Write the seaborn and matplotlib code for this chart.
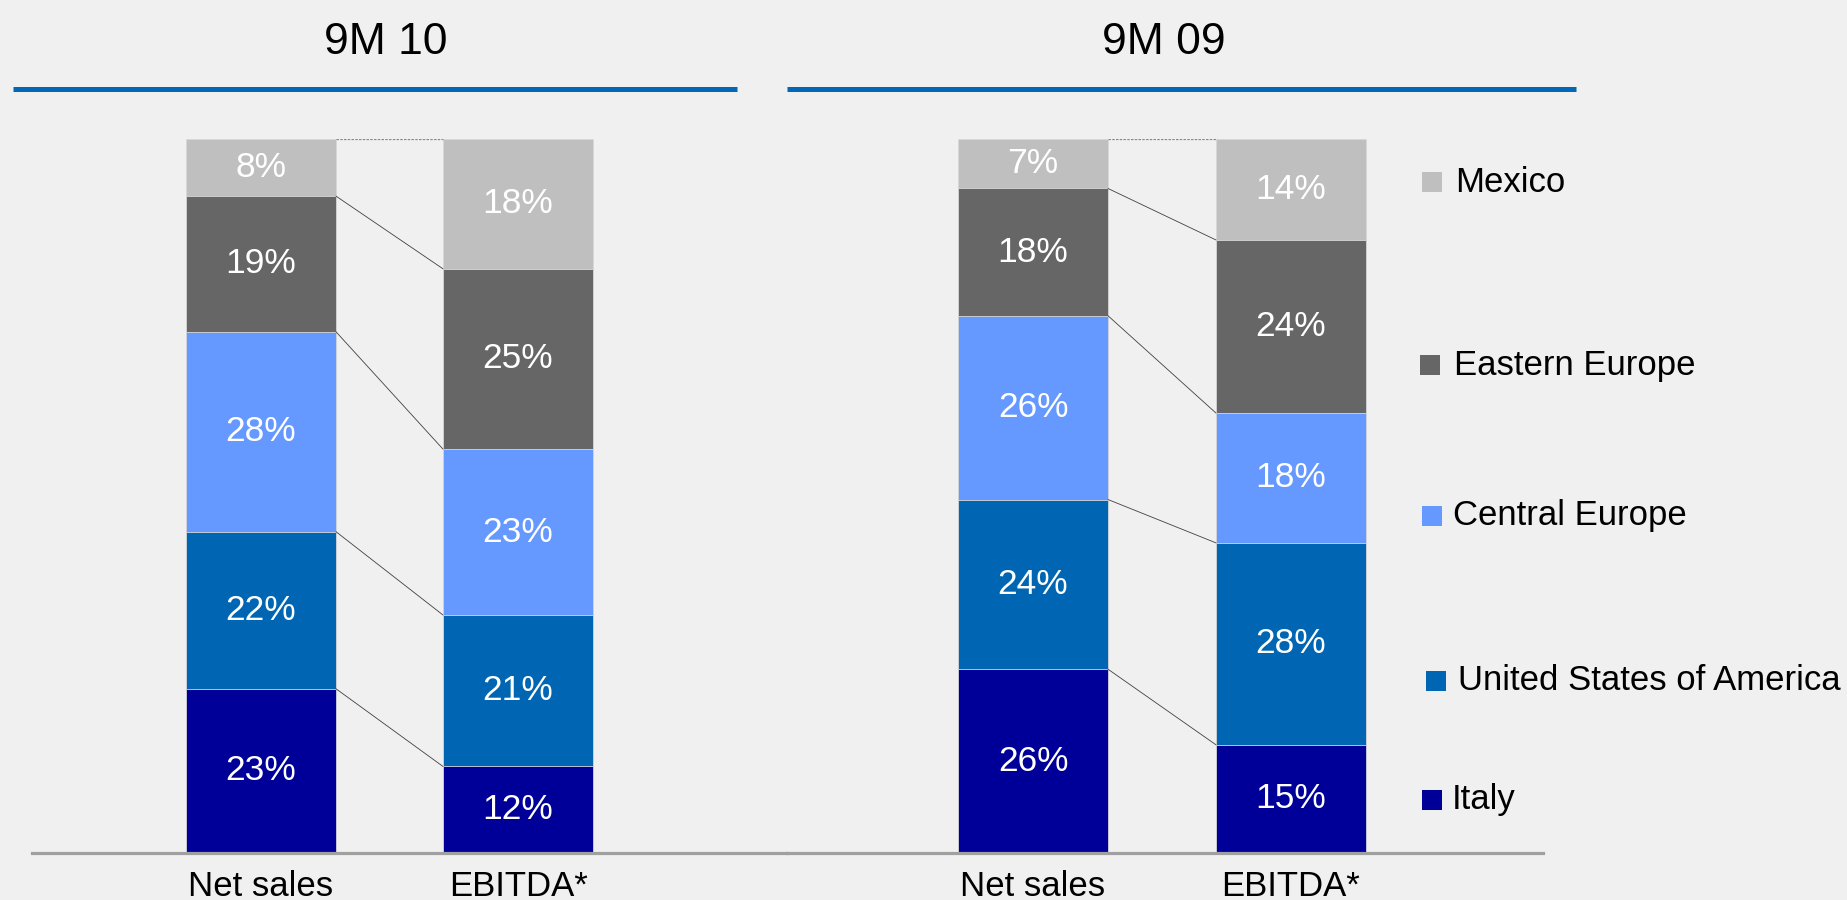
import matplotlib
matplotlib.use("Agg")
import matplotlib.pyplot as plt
from matplotlib.lines import Line2D
from matplotlib.patches import Rectangle
import seaborn as sns
import pandas as pd
import numpy as np

# ---------------- data ----------------
regions = ["Italy", "United States of America", "Central Europe", "Eastern Europe", "Mexico"]  # bottom -> top
metrics = ["Net sales", "EBITDA*"]
period_titles = ["9M 10", "9M 09"]
nm10_net_sales = [23, 22, 28, 19, 8]
nm10_ebitda = [12, 21, 23, 25, 18]
nm09_net_sales = [26, 24, 26, 18, 7]
nm09_ebitda = [15, 28, 18, 24, 14]
legend_order = ["Mexico", "Eastern Europe", "Central Europe", "United States of America", "Italy"]

# ---------------- styles ----------------
colors = {
    "Italy": "#000099",
    "United States of America": "#0066B3",
    "Central Europe": "#6699FF",
    "Eastern Europe": "#666666",
    "Mexico": "#BFBFBF",
}
BG = "#F0F0F0"
W, H = 1847, 900

sns.set_theme(style="white")
plt.rcParams["font.family"] = ["Liberation Sans", "DejaVu Sans"]

fig = plt.figure(figsize=(W / 100, H / 100), dpi=100, facecolor=BG)

def fx(px):
    return px / W

def fy(py):
    return 1 - py / H

panels = [
    dict(title=period_titles[0], data=[nm10_net_sales, nm10_ebitda],
         rect=[fx(32), fy(853), fx(755), 714 / H], unit=257, x0=261,
         title_x=386, line=(13, 737)),
    dict(title=period_titles[1], data=[nm09_net_sales, nm09_ebitda],
         rect=[fx(787), fy(853), fx(756), 714 / H], unit=258, x0=1033,
         title_x=1164, line=(787, 1576)),
]

for p in panels:
    ax = fig.add_axes(p["rect"])
    ax.set_facecolor("none")
    bar_w = 150 / p["unit"]
    rows = []
    for m, vals in zip(metrics, p["data"]):
        vals = np.array(vals, dtype=float)
        share = vals / vals.sum() * 100
        cum = np.cumsum(share)
        for r, v, s, c in zip(regions, vals, share, cum):
            rows.append(dict(metric=m, region=r, value=v, share=s, top=c, bottom=c - s))
    df = pd.DataFrame(rows)
    # cumulative bars, top layer first
    for r in regions[::-1]:
        sub = df[df.region == r]
        sns.barplot(data=sub, x="metric", y="top", order=metrics, color=colors[r],
                    saturation=1, width=bar_w, ax=ax, edgecolor="#D8D8D8",
                    linewidth=0.6, errorbar=None)
    for i, m in enumerate(metrics):
        sub = df[df.metric == m]
        for _, row in sub.iterrows():
            ax.text(i, (row.top + row.bottom) / 2, f"{int(row.value)}%", ha="center",
                    va="center", color="white", fontsize=25.5)
    net = df[df.metric == metrics[0]].reset_index(drop=True)
    ebi = df[df.metric == metrics[1]].reset_index(drop=True)
    for k in range(len(regions) - 1):
        ax.plot([bar_w / 2, 1 - bar_w / 2], [net.top[k], ebi.top[k]],
                color="#404040", lw=0.6, zorder=1)
    ax.plot([bar_w / 2, 1 - bar_w / 2], [100, 100], color="#8A8A8A", lw=0.9,
            ls=(0, (2, 1)), zorder=1)

    left = (p["rect"][0] * W - p["x0"]) / p["unit"]
    right = left + p["rect"][2] * W / p["unit"]
    ax.set_xlim(left, right)
    ax.set_ylim(0, 100)
    ax.set_xlabel("")
    ax.set_ylabel("")
    ax.set_yticks([])
    for s in ["left", "top", "right"]:
        ax.spines[s].set_visible(False)
    ax.spines["bottom"].set_color("#A0A0A0")
    ax.spines["bottom"].set_linewidth(2.3)
    ax.tick_params(axis="x", length=0, labelsize=25, pad=12, colors="black")

    fig.text(fx(p["title_x"]), fy(43), p["title"], ha="center", va="center",
             fontsize=32, color="black")
    fig.add_artist(Line2D([fx(p["line"][0]), fx(p["line"][1])], [fy(89), fy(89)],
                          transform=fig.transFigure, color="#0068B5", lw=3.6,
                          solid_capstyle="butt"))

legend_y = [182, 365, 516, 681, 800]
legend_marker_x = [1422, 1420, 1422, 1426, 1422]
legend_text_x = [1455, 1454, 1453, 1458, 1452]
for name, y, mx, tx in zip(legend_order, legend_y, legend_marker_x, legend_text_x):
    fig.add_artist(Rectangle((fx(mx), fy(y + 10)), fx(20), 20 / H,
                             transform=fig.transFigure, facecolor=colors[name],
                             edgecolor="none"))
    fig.text(fx(tx), fy(y), name, ha="left", va="center", fontsize=25, color="black")

fig.savefig("out.png", dpi=100, facecolor=BG)
